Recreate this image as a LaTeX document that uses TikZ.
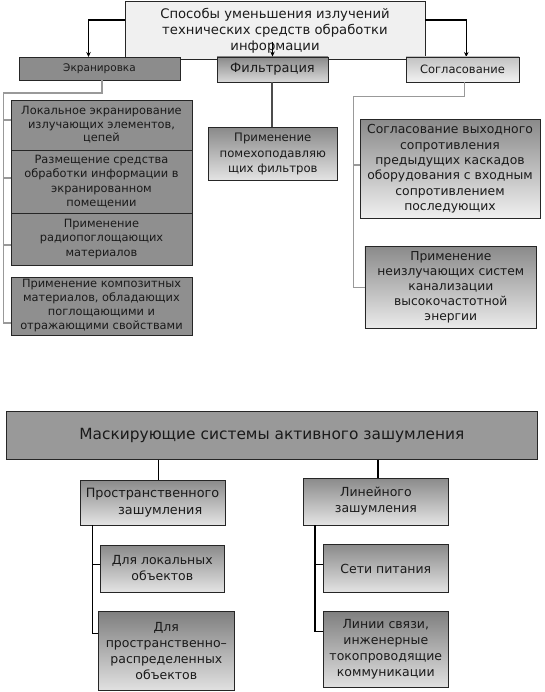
\documentclass[tikz,border=0pt]{standalone}
\usepackage{fontspec}
\setmainfont{DejaVu Sans}
\usetikzlibrary{arrows.meta}
\newcommand{\myfs}[2]{\fontsize{#1}{#2}\selectfont}
\definecolor{txt}{HTML}{1A1A1A}
\definecolor{gA}{HTML}{8A8A8A}
\definecolor{gB}{HTML}{E4E4E4}
\tikzset{
  box/.style={draw=black!85, line width=0.9pt, align=center, inner sep=0pt, text=txt},
  grad/.style={top color=gA, bottom color=gB},
  arr/.style={draw=black, line width=1.2pt, -{Stealth[length=5pt,width=4.5pt]}},
  gline/.style={draw=black!40, line width=1.3pt},
  fline/.style={draw=black!70, line width=1.6pt},
  bline/.style={draw=black, line width=1.3pt},
}
\begin{document}
\begin{tikzpicture}[x=1pt,y=-1pt]
\useasboundingbox (0,0) rectangle (544,692);
% top half
\node[box, fill=black!6, minimum width=300pt, minimum height=58pt, font=\myfs{13.2}{15.8}] (T) at (275,30.5) {Способы уменьшения излучений\\технических средств обработки\\информации};
\draw[arr] ([yshift=10.5pt]T.west) -| (88.5,57);
\draw[arr] ([yshift=10.5pt]T.east) -| (466.3,57);
\node[box, fill=black!45, minimum width=161pt, minimum height=23pt, font=\myfs{10.5}{13}] (E) at (99.5,68.5) {Экранировка};
\node[box, top color=gA, bottom color=black!15, minimum width=111pt, minimum height=25pt, font=\myfs{13}{15}] (F) at (272.5,69.5) {Фильтрация};
\node[box, top color=black!24, bottom color=black!5, minimum width=113pt, minimum height=25pt, font=\myfs{11.5}{14}] (S) at (462.5,69.5) {Согласование};
\draw[arr] ([yshift=15pt]F.north) -- (F.north);

\node[box, fill=black!44, minimum width=181pt, minimum height=50pt, font=\myfs{11.4}{13.5}] (L1) at (101.5,125) {Локальное экранирование\\излучающих элементов,\\цепей};
\node[box, fill=black!44, minimum width=181pt, minimum height=63pt, font=\myfs{11.4}{14.5}] (L2) at (101.5,181.5) {Размещение средства\\обработки информации в\\экранированном\\помещении};
\node[box, fill=black!44, minimum width=181pt, minimum height=52pt, font=\myfs{11.4}{14.5}] (L3) at (101.5,239) {Применение\\радиопоглощающих\\материалов};
\node[box, fill=black!44, minimum width=181pt, minimum height=58pt, font=\myfs{11.4}{14}] (L4) at (101.5,306) {Применение композитных\\материалов, обладающих\\поглощающими и\\отражающими свойствами};

\coordinate (eB) at (3.5,93);
\draw[gline] ([xshift=2.5pt]E.south) |- (eB) |- (L4.west |- 0,323);
\draw[gline] (eB |- 0,120) -- (L1.west |- 0,120);
\draw[gline] (eB |- 0,178) -- (L2.west |- 0,178);
\draw[gline] (eB |- 0,245) -- (L3.west |- 0,245);

\node[box, grad, minimum width=129pt, minimum height=53pt, font=\myfs{11.7}{15.5}] (F1) at (272.8,154) {Применение\\помехоподавляю\\щих фильтров};
\draw[fline] ([xshift=-0.8pt]F.south) -- ([xshift=-0.8pt]F.south |- F1.north);

\node[box, top color=gA, bottom color=black!6, minimum width=180pt, minimum height=99pt, font=\myfs{12.4}{15.3}] (S1) at (450,168.8) {Согласование выходного\\сопротивления\\предыдущих каскадов\\оборудования с входным\\сопротивлением\\последующих};
\node[box, top color=gA, bottom color=black!8, minimum width=171.7pt, minimum height=82.3pt, font=\myfs{12.3}{15}] (S2) at (450.8,287.2) {Применение\\неизлучающих систем\\канализации\\высокочастотной\\энергии};

\coordinate (sB) at (353.5,96.7);
\draw[gline] ([xshift=1.8pt]S.south) |- (sB) |- (S2.west);
\draw[gline] (sB |- 0,165) -- (S1.west |- 0,165);

% bottom half
\node[box, fill=black!40, minimum width=531.7pt, minimum height=48.5pt, font=\myfs{15.4}{18}] (M) at (271.9,435.25) {Маскирующие системы активного зашумления};
\node[box, grad, minimum width=145pt, minimum height=45pt, font=\myfs{12.8}{17.5}] (P) at (152.5,502.5) {Пространственного\\\hspace*{1.2em}зашумления};
\node[box, grad, minimum width=144.8pt, minimum height=47pt, font=\myfs{12.5}{16}] (Lin) at (375.9,501.5) {Линейного\\зашумления};
\draw[bline] ([xshift=5.8pt]P.north |- M.south) -- ([xshift=5.8pt]P.north);
\draw[bline] ([xshift=2.1pt]Lin.north |- M.south) -- ([xshift=2.1pt]Lin.north);

\node[box, grad, minimum width=124.5pt, minimum height=47pt, font=\myfs{12.5}{16}] (P1) at (162.25,568.5) {Для локальных\\объектов};
\node[box, top color=black!50, bottom color=black!12, minimum width=136pt, minimum height=78.3pt, font=\myfs{12.5}{16}] (P2) at (166.35,650.85) {Для\\пространственно–\\распределенных\\объектов};
\node[box, grad, minimum width=125pt, minimum height=48pt, font=\myfs{12.5}{16}] (Lin1) at (385.8,568.5) {Сети питания};
\node[box, top color=black!50, bottom color=black!12, minimum width=125pt, minimum height=76pt, font=\myfs{12.5}{16}] (Lin2) at (385.8,649.5) {Линии связи,\\инженерные\\токопроводящие\\коммуникации};

\coordinate (pT) at (92.7,525);
\draw[bline] (pT) |- (P2.west |- 0,633.3);
\draw[bline] (pT |- 0,564.3) -- (P1.west |- 0,564.3);
\coordinate (lT) at (315,525);
\draw[bline] (lT) |- (Lin2.west |- 0,631.7);
\draw[bline] (lT |- 0,564.3) -- (Lin1.west |- 0,564.3);
\end{tikzpicture}
\end{document}
